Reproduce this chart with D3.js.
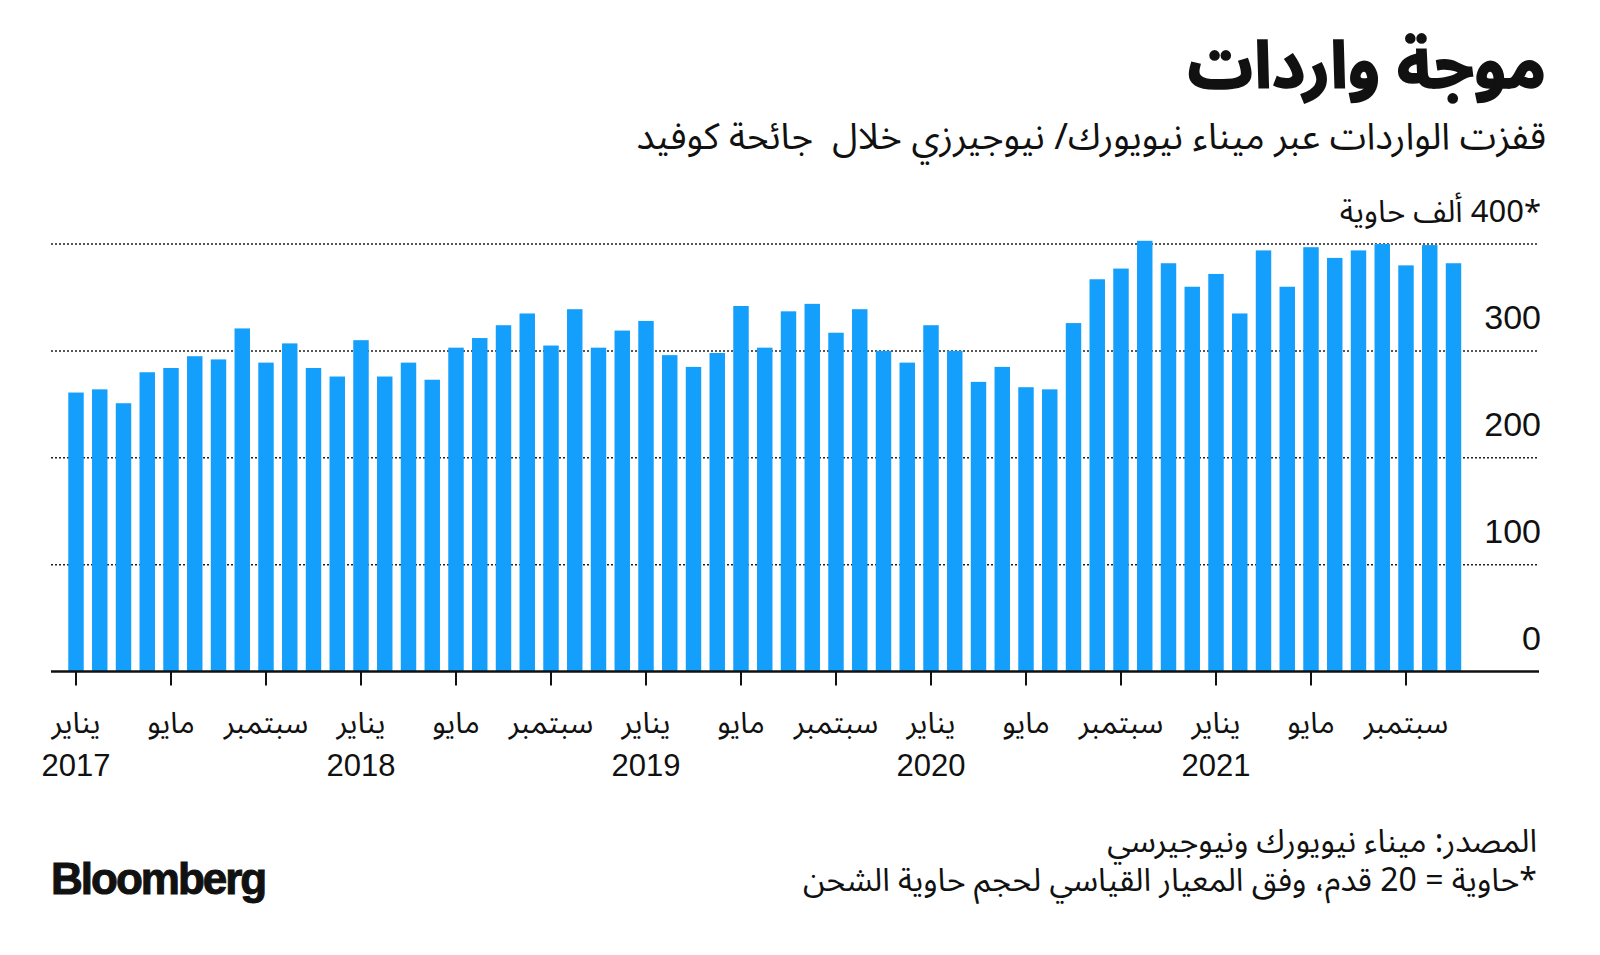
<!DOCTYPE html>
<meta charset="utf-8">
<style>
body { margin: 0; background: #fff; }
text { fill: #111; }
.ar { font-family: "Noto Sans Arabic", "DejaVu Sans", sans-serif; white-space: pre; }
.num { font-family: "Liberation Sans", Arial, sans-serif; }
.grid line { stroke: #222; stroke-width: 1.5; stroke-dasharray: 2,2; }
</style>
<body>
<svg id="chart" width="1600" height="955"></svg>
<script src="https://cdn.jsdelivr.net/npm/d3@7"></script>
<script>

// monthly imports, thousand TEU, Jan 2017 - Nov 2021
var values = [
  261, 264, 251, 280, 284, 295, 292, 321, 289, 307, 284, 276,   // 2017
  310, 276, 289, 273, 303, 312, 324, 335, 305, 339, 303, 319,   // 2018
  328, 296, 285, 298, 342, 303, 337, 344, 317, 339, 300, 289,   // 2019
  324, 300, 271, 285, 266, 264, 326, 367, 377, 403, 382, 360,   // 2020
  372, 335, 394, 360, 397, 387, 394, 400, 380, 399, 382         // 2021
];
var monthNames = ["يناير", "", "", "", "مايو", "", "", "", "سبتمبر", "", "", ""];
var years = ["2017", "2018", "2019", "2020", "2021"];
var yTicks = [0, 100, 200, 300, 400];
var yTickLabels = ["0", "100", "200", "300", "*400 ألف حاوية"];

var svg = d3.select("#chart"),
    width = +svg.attr("width"),
    height = +svg.attr("height");

var left = 51, right = 1539, base = 671.5, top400 = 244;
var step = 23.75, firstCenter = 76;

var months = values.map(function(v, i) { return i; });

var x = d3.scaleBand()
    .domain(months)
    .range([firstCenter - step / 2, firstCenter - step / 2 + step * months.length])
    .paddingInner(0.35)
    .paddingOuter(0.175);

var y = d3.scaleLinear()
    .domain([0, 400])
    .range([base, top400]);

// title + subtitle
svg.append("text")
    .attr("class", "ar")
    .attr("x", 1546).attr("y", 88)
    .attr("direction", "rtl")
    .attr("text-anchor", "start")
    .style("font-size", "65px")
    .style("font-weight", "bold")
    .style("stroke", "#111").style("stroke-width", 1.6)
    .text("موجة واردات");

svg.append("text")
    .attr("class", "ar")
    .attr("x", 1546).attr("y", 149)
    .attr("direction", "rtl")
    .attr("text-anchor", "start")
    .style("font-size", "37px")
    .text("قفزت الواردات عبر ميناء نيويورك/ نيوجيرزي خلال  جائحة كوفيد");

// gridlines
var grid = svg.append("g").attr("class", "grid");
grid.selectAll("line")
    .data(yTicks.filter(function(d) { return d > 0; }))
    .enter().append("line")
    .attr("x1", left).attr("x2", right)
    .attr("y1", function(d) { return y(d); })
    .attr("y2", function(d) { return y(d); });

// y labels
svg.selectAll(".ylab")
    .data(yTicks)
    .enter().append("text")
    .attr("class", function(d, i) { return i == 4 ? "ylab ar" : "ylab num"; })
    .attr("x", 1541)
    .attr("y", function(d) { return y(d) - 22; })
    .attr("direction", function(d, i) { return i == 4 ? "rtl" : "ltr"; })
    .attr("text-anchor", function(d, i) { return i == 4 ? "start" : "end"; })
    .style("font-size", function(d, i) { return i == 4 ? "31px" : "34px"; })
    .text(function(d, i) { return yTickLabels[i]; });

// bars
svg.append("g").selectAll("rect")
    .data(values)
    .enter().append("rect")
    .attr("x", function(d, i) { return x(i); })
    .attr("width", x.bandwidth())
    .attr("y", function(d) { return y(d); })
    .attr("height", function(d) { return y(0) - y(d); })
    .attr("fill", "#139ffb");

// baseline + ticks
svg.append("line")
    .attr("x1", left).attr("x2", right)
    .attr("y1", base).attr("y2", base)
    .attr("stroke", "#111").attr("stroke-width", 2.5);

var tickMonths = months.filter(function(i) { return i % 4 == 0; });

svg.append("g").selectAll("line")
    .data(tickMonths)
    .enter().append("line")
    .attr("x1", function(i) { return x(i) + x.bandwidth() / 2; })
    .attr("x2", function(i) { return x(i) + x.bandwidth() / 2; })
    .attr("y1", base).attr("y2", base + 14)
    .attr("stroke", "#111").attr("stroke-width", 2);

svg.append("g").selectAll("text")
    .data(tickMonths)
    .enter().append("text")
    .attr("class", "ar")
    .attr("x", function(i) { return x(i) + x.bandwidth() / 2; })
    .attr("y", 733)
    .attr("text-anchor", "middle")
    .style("font-size", "30px")
    .text(function(i) { return monthNames[i % 12]; });

svg.append("g").selectAll("text")
    .data(years)
    .enter().append("text")
    .attr("class", "num")
    .attr("x", function(d, k) { return x(k * 12) + x.bandwidth() / 2; })
    .attr("y", 776)
    .attr("text-anchor", "middle")
    .style("font-size", "31px")
    .text(function(d) { return d; });

// footer
svg.append("text")
    .attr("class", "ar")
    .attr("x", 1537).attr("y", 852)
    .attr("direction", "rtl")
    .attr("text-anchor", "start")
    .style("font-size", "32px")
    .text("المصدر: ميناء نيويورك ونيوجيرسي");

svg.append("text")
    .attr("class", "ar")
    .attr("x", 1537).attr("y", 891)
    .attr("direction", "rtl")
    .attr("text-anchor", "start")
    .style("font-size", "32px")
    .text("*حاوية = 20 قدم، وفق المعيار القياسي لحجم حاوية الشحن");

svg.append("text")
    .attr("x", 51).attr("y", 894)
    .style("font-family", "'Liberation Sans', Arial, sans-serif")
    .style("font-size", "44px")
    .style("font-weight", "bold")
    .style("letter-spacing", "-2px")
    .style("stroke", "#111").style("stroke-width", 1)
    .text("Bloomberg");

</script>
</body>
